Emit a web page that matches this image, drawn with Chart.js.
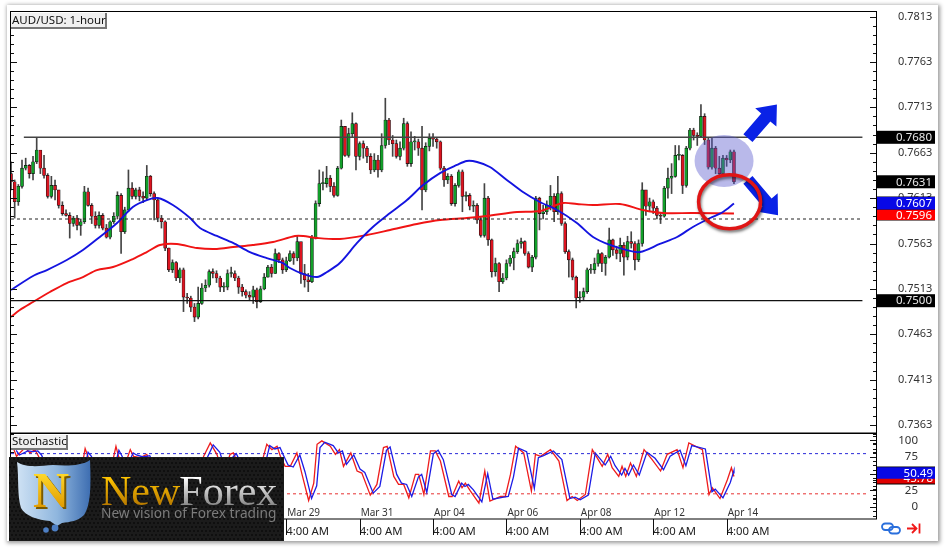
<!DOCTYPE html>
<html><head><meta charset="utf-8">
<script src="https://cdn.jsdelivr.net/npm/chart.js@4"></script>
<style>
html,body{margin:0;padding:0;background:#fff;width:945px;height:549px;overflow:hidden}
#sheet{position:absolute;left:7px;top:5px;width:931px;height:536px;background:#fff;box-shadow:1px 1px 4px 1px #999}
canvas{position:absolute;left:0;top:0}
</style></head><body>
<div id="sheet"></div>
<canvas id="c" width="945" height="549"></canvas>
<script>
// prices are in units of 0.0001
const closes=[7631,7609,7626,7646,7649,7640,7653,7666,7646,7638,
7615,7627,7622,7605,7596,7594,7585,7591,7583,7587,
7620,7605,7593,7583,7594,7580,7570,7587,7593,7616,
7576,7600,7624,7615,7622,7615,7613,7637,7618,7611,
7591,7587,7558,7534,7542,7525,7534,7504,7503,7493,
7482,7497,7514,7517,7532,7530,7525,7515,7515,7530,
7530,7525,7515,7510,7506,7504,7512,7499,7513,7526,
7537,7530,7552,7545,7534,7544,7552,7547,7565,
7530,7523,7521,7569,7607,7629,7629,7635,7626,7616,7646,
7692,7660,7684,7695,7659,7673,7668,7659,7644,7655,
7644,7671,7699,7677,7673,7659,7668,7695,7651,7675,
7675,7668,7622,7670,7679,7678,7675,7646,7633,7637,
7607,7627,7642,7615,7616,7604,7605,7589,7572,7613,
7567,7532,7541,7521,7525,7541,7547,7554,7563,7565,
7552,7537,7548,7613,7596,7598,7605,7615,7598,7618,
7585,7554,7545,7526,7503,7504,7510,7534,
7534,7541,7552,7541,7548,7567,7556,7552,7561,7548,7565,7563,
7545,7563,7622,7604,7609,7602,7594,7593,7624,7635,
7637,7660,7660,7627,7668,7688,7682,7681,7703,7677,
7647,7668,7646,7640,7657,7655,7664,7631];
const highs=[7653,7633,7628,7655,7657,7650,7659,7680,7662,7660,
7640,7637,7633,7618,7609,7600,7597,7593,7594,7590,
7626,7624,7607,7598,7598,7596,7584,7588,7597,7620,
7618,7603,7644,7630,7624,7625,7620,7649,7638,7620,
7612,7594,7588,7558,7545,7543,7536,7536,7508,7505,
7497,7515,7519,7523,7534,7535,7533,7527,7520,7534,
7537,7533,7527,7518,7512,7510,7516,7514,7516,7530,
7539,7540,7557,7553,7547,7548,7555,7554,7572,
7552,7540,7530,7572,7610,7644,7642,7648,7638,7630,7648,
7699,7692,7690,7707,7696,7675,7676,7670,7662,7662,
7660,7684,7723,7701,7682,7677,7675,7701,7697,7686,
7681,7678,7692,7674,7684,7684,7680,7676,7648,7640,
7639,7629,7644,7644,7620,7618,7610,7607,7592,7629,
7615,7568,7547,7542,7530,7545,7550,7558,7567,7569,
7566,7554,7550,7615,7614,7605,7610,7627,7618,7637,
7620,7587,7556,7547,7527,7510,7514,7536,
7540,7547,7556,7553,7550,7580,7568,7560,7569,7564,7571,7576,
7565,7567,7630,7613,7613,7611,7604,7597,7626,7646,
7651,7671,7671,7661,7670,7690,7690,7685,7716,7706,
7679,7679,7670,7659,7660,7660,7666,7666];
const lows=[7622,7591,7605,7624,7644,7635,7633,7651,7640,7635,
7613,7613,7611,7602,7594,7593,7569,7582,7578,7572,
7585,7604,7585,7580,7580,7578,7569,7568,7585,7590,
7552,7574,7598,7612,7612,7610,7608,7611,7615,7589,
7587,7580,7555,7532,7531,7522,7520,7488,7497,7488,
7477,7480,7496,7510,7515,7525,7520,7510,7510,7512,
7526,7522,7508,7505,7503,7500,7497,7492,7498,7512,
7526,7526,7530,7542,7530,7532,7543,7540,7544,
7519,7515,7510,7520,7568,7604,7622,7625,7620,7614,7615,
7645,7659,7658,7680,7644,7655,7657,7652,7640,7642,
7636,7642,7668,7672,7659,7657,7655,7666,7648,7648,
7666,7660,7600,7620,7665,7670,7668,7644,7626,7629,
7605,7604,7625,7598,7610,7600,7598,7585,7570,7570,
7561,7526,7527,7510,7519,7523,7538,7534,7552,7558,
7550,7536,7532,7546,7578,7590,7595,7600,7587,7595,
7583,7552,7526,7523,7492,7498,7500,7508,
7530,7530,7538,7532,7528,7547,7550,7546,7543,7528,7545,7558,
7534,7543,7560,7594,7598,7596,7590,7585,7592,7613,
7618,7636,7655,7618,7625,7666,7677,7671,7680,7672,
7645,7645,7640,7638,7640,7648,7652,7629];
const firstOpen=7640;

const blueMaIndex=[0,6,9.8,15.2,19.6,24.2,28.9,33.2,37,40,44.1,48.8,51.5,56.1,60.5,65.1,69.7,74.1,76,79.6,83.4,86.1,89.6,94.3,98.6,103.3,107.9,112.3,116.9,121.5,124.2,127,130.5,135.1,139.5,144.1,148.8,154.2,158.6,163.2,167.8,171.4,176.8,181.5,185.8,190.5,194,197];
const blueMaValues=[7511.8,7527.2,7533.8,7544.8,7555.8,7570.2,7585.6,7603.2,7610.9,7613.1,7605.4,7591.1,7580.1,7571.3,7563.6,7553.6,7547,7541.5,7536,7529.4,7526.1,7531.6,7541.5,7563.6,7581.2,7596.6,7610.9,7627.4,7640.6,7649.5,7653.9,7652.8,7647.3,7633,7619.7,7608.7,7599.9,7585.6,7570.2,7561.4,7555.8,7553.6,7562.5,7570.2,7581.2,7591.1,7597.7,7607];
const redMaIndex=[0,2.4,6,10.6,15.2,19.6,23.4,27.8,33.2,37,40.6,45.2,50.7,56.1,60.5,65.9,71.4,77.4,79.6,83.4,89.6,97,103.3,110.6,116.9,124.2,129.7,137.9,144.1,150.4,154.2,158.6,165.9,172.2,177.6,185.8,197];
const redMaValues=[7482.1,7489.8,7498.6,7509.6,7519.5,7526.1,7533.8,7537.1,7545.9,7553.6,7561.4,7562.5,7558,7557,7559.1,7561.4,7564.7,7571.3,7571.3,7569.1,7568,7572.4,7577.9,7584.5,7588.9,7591.1,7593.3,7597.7,7598.8,7607.6,7606.5,7605.4,7606.5,7599.9,7596.6,7596.6,7596];

const stochIndex=[0.6,1.5,3.8,5.2,6.5,7.5,9.7,13.4,16.5,18.8,20.2,21.1,23.4,26.1,28.6,29.3,30.8,32.5,33.4,35.2,37,39.7,44.3,48.8,51,52.5,54.3,56.1,57.9,59.7,60.6,63.4,66.1,67.9,68.8,69.7,71.1,72.5,73.4,74.7,76.1,77.9,79.3,81.1,82.5,83.4,84.7,87,88.4,89.5,90.6,92.6,94.3,95.6,97.9,99.7,101.5,102.5,104.3,105.6,107,108.4,110.2,111.1,112.5,114.3,115.6,117,119.3,120.2,122,122.9,123.8,125.2,127.5,129.1,130.5,133.4,134.7,136.1,137.5,139.7,141.8,142.9,144.3,147,149.3,151.5,152.9,154.3,156.5,158.4,161.1,162.6,163.8,165.6,166.5,167.5,168.8,170.4,172.5,174.7,177,178.8,181.5,183.1,184.7,188.4,190.2,191.1,193.2,195.2,196.3,197];
const stochRed=[88.6,76,88.6,81,86,76,49,29,59,44,87.6,74,44,29,91,76,59,86,76,74,79,44,24,9,49,76,96,79,49,79,81,44,24,54,76,94,86,91,76,61,61,81,49,10,36,94,99,91,79,86,61,81,54,51,18,34,89,91,46,34,34,14,49,49,19,84,84,69,16,16,39,29,36,24,6,54,9,16,16,49,91,81,24,79,76,86,69,10,16,10,19,86,61,79,59,46,61,46,66,46,86,71,54,79,86,59,96,86,19,29,13,41,59,45.8];
const stochBlue=[85,78,84,83,84,78,52,31,55,46,82,76,47,31,85,78,61,81,78,75,77,47,26,11,46,72,93,82,52,75,80,47,26,50,72,92,87,89,78,63,60,78,53,13,32,89,97,92,81,84,64,78,57,52,21,31,85,90,49,36,34,16,45,49,22,80,85,71,19,16,36,31,34,26,8,50,12,15,16,45,88,83,28,74,77,84,71,13,15,11,18,81,63,76,62,48,58,48,63,48,82,73,56,76,85,62,92,87,23,27,14,37,55,50.49];

const timeTickIndex=[75,95,115,135,155,175,195];
const timeTickLabel="4:00 AM";
const dateLabels=["Mar 29","Mar 31","Apr 04","Apr 06","Apr 08","Apr 12","Apr 14"];
const priceLabels=["0.7813","0.7763","0.7713","0.7663","0.7613","0.7563","0.7513","0.7463","0.7413","0.7363"];
const stochLabels=[100,75,50,25,0];
const levelResistance=7680, levelDashed=7590, levelSupport=7500;
const stochUpper=80, stochLower=20;
const lastBar=closes.length-1;
const P=v=>v/10000;

const opens=closes.map((c,i)=>i?closes[i-1]:firstOpen);
const pts=(xs,ys,f=v=>v)=>xs.map((x,i)=>({x,y:f(ys[i])}));
const wickData=closes.map((c,i)=>({x:i,y:[P(lows[i]),P(highs[i])]}));
const bodyData=closes.map((c,i)=>({x:i,y:[P(opens[i]),P(c)]}));
const bodyColors=closes.map((c,i)=>c>=opens[i]?'#12a02a':'#dc1420');
const hline=(v,a,b)=>[{x:a,y:P(v)},{x:b,y:P(v)}];

const FONT='"Noto Sans"';
function frame(s){ s.width=69; s.paddingTop=0; s.paddingBottom=0; }

const decor={id:'decor',
 afterDraw(ch){
  const c=ch.ctx,X=ch.scales.x,Y=ch.scales.y,S=ch.scales.yStoch;
  const L=X.left,R=X.right;
  const px=i=>X.getPixelForValue(i), py=v=>Y.getPixelForValue(P(v));
  c.save();
  // tick marks along both price edges and the oscillator edge
  c.strokeStyle='#111';c.lineWidth=1;c.beginPath();
  Y.ticks.forEach(t=>{const y=Math.round(Y.getPixelForValue(t.value))+.5;const m=t.label!=='';
    const l=m?6:3; c.moveTo(R-l,y);c.lineTo(R,y);c.moveTo(L,y);c.lineTo(L+l,y);});
  S.ticks.forEach(t=>{const y=Math.round(S.getPixelForValue(t.value))+.5;const m=t.value%25===0;
    const l=m?6:3; c.moveTo(R-l,y);c.lineTo(R,y);});
  timeTickIndex.forEach(i=>{const x=Math.round(px(i))+.5;c.moveTo(x,S.bottom);c.lineTo(x,S.bottom+16);});
  c.stroke();
  // panel frames
  c.strokeStyle='#000';c.lineWidth=1;
  c.strokeRect(L-.5,Y.top+.5,R-L+1,Y.bottom-Y.top);
  c.strokeRect(L-.5,S.top,R-L+1,S.bottom-S.top);
  // date labels
  c.fillStyle='#333';c.font='10px '+FONT;c.textAlign='left';c.textBaseline='middle';
  dateLabels.forEach((d,k)=>c.fillText(d,px(timeTickIndex[k])+1,513));
  // oscillator scale labels
  c.font='11.5px '+FONT;c.textAlign='right';
  stochLabels.forEach(v=>c.fillText(String(v),918,S.getPixelForValue(v)));
  // arrows
  const arrow=(i0,v0,i1,v1)=>{const x0=px(i0),y0=py(v0),x1=px(i1),y1=py(v1);
    const a=Math.atan2(y1-y0,x1-x0),n=Math.hypot(x1-x0,y1-y0);
    c.save();c.translate(x0,y0);c.rotate(a);c.fillStyle='#0a22e6';c.beginPath();
    c.moveTo(0,-6);c.lineTo(n-17,-6);c.lineTo(n-17,-14);c.lineTo(n,0);c.lineTo(n-17,14);c.lineTo(n-17,6);c.lineTo(0,6);
    c.closePath();c.fill();c.restore();};
  arrow(200.8,7679,208.7,7716);
  arrow(200.8,7633,209,7594);
  // translucent blue ellipse
  c.fillStyle='rgba(88,88,205,0.42)';c.beginPath();c.ellipse(px(194.3),py(7654),29.5,26,0,0,7);c.fill();
  // red ellipse
  c.save();c.shadowColor='rgba(0,0,0,.55)';c.shadowBlur=3;c.shadowOffsetX=1;c.shadowOffsetY=2;
  c.strokeStyle='#e01515';c.lineWidth=3.5;c.beginPath();c.ellipse(px(195.8),py(7609),31,27,0,0,7);c.stroke();c.restore();
  // value badges
  const badge=(y,h,bg,txt,fg,tx)=>{c.fillStyle=bg;c.fillRect(877,y-h/2,58,h);
     c.fillStyle=fg;c.font='11.5px '+FONT;c.textAlign='right';c.textBaseline='middle';c.fillText(txt,tx,y+.5);};
  badge(py(7680),13,'#000','0.7680','#e8e8e8',932);
  badge(py(7631),13,'#000','0.7631','#e8e8e8',932);
  badge(py(7500),13,'#000','0.7500','#e8e8e8',932);
  c.fillStyle='#000';c.fillRect(877,196.5,58,24);
  badge(214.8,10.5,'#ff0000','0.7596','#fff',932);
  badge(203.2,12.5,'#0808e6','0.7607','#fff',932);
  c.fillStyle='#000';c.fillRect(877,466.5,58,18);
  badge(478,11,'#e00000','45.78','#fff',933);
  badge(473,11.5,'#0808e6','50.49','#fff',933);
  // legend tags
  const tag=(x,y,w,h,t)=>{c.fillStyle='#f0f0f0';c.fillRect(x,y,w,h);
     c.fillStyle='#777';c.fillRect(x+w-1,y,2,h+1);c.fillRect(x,y+h-1,w+1,2);
     c.fillStyle='#111';c.font='11.5px '+FONT;c.textAlign='left';c.textBaseline='middle';c.fillText(t,x+1,y+h/2);};
  tag(11,13,95,15,'AUD/USD: 1-hour');
  tag(11,435,56,14,'Stochastic');
  // link and jump icons
  c.strokeStyle='#2a6fdc';c.lineWidth=1.8;
  const rr=(x,y,w,h)=>{c.beginPath();c.roundRect(x,y,w,h,3.5);c.stroke();};
  rr(882,523.5,11,6.5);rr(889,527,11,6.5);
  c.strokeStyle='#f01818';c.lineWidth=1.8;c.beginPath();
  c.moveTo(907,528.5);c.lineTo(916,528.5);c.moveTo(912,524);c.lineTo(916.5,528.5);c.lineTo(912,533);
  c.moveTo(919.5,523.5);c.lineTo(919.5,533.5);c.stroke();
  // banner
  c.fillStyle='#1b1b1b';c.fillRect(9,457,275,84);
  c.fillStyle='#0d0d0d';
  for(let y=459;y<541;y+=4)for(let x=10+((y-459)%8?2:0);x<284;x+=4){c.beginPath();c.arc(x,y,1,0,7);c.fill();}
  const g=c.createLinearGradient(17,0,90,0);g.addColorStop(0,'#cfe2f4');g.addColorStop(.55,'#8fb6de');g.addColorStop(1,'#3f6fb2');
  c.fillStyle=g;c.beginPath();c.moveTo(17,462);
  c.bezierCurveTo(26,468,40,466,53,465);c.bezierCurveTo(66,466,82,466,90,460);
  c.bezierCurveTo(91,485,91,505,84,515);c.bezierCurveTo(78,521,70,522,62,523);c.lineTo(57,526);c.lineTo(50,521);
  c.bezierCurveTo(38,520,25,516,21,508);c.bezierCurveTo(17,495,19,478,17,462);c.closePath();c.fill();
  c.fillStyle='#4d7fc4';c.beginPath();c.arc(46,530,2.8,0,7);c.arc(55,528,3.4,0,7);c.fill();
  c.textAlign='left';c.textBaseline='alphabetic';
  const gold=c.createLinearGradient(0,473,0,508);gold.addColorStop(0,'#ffd92a');gold.addColorStop(1,'#e09a00');
  c.font='bold 50px "Liberation Serif"';c.fillStyle='#7a5a00';c.fillText('N',35,509);
  c.fillStyle=gold;c.fillText('N',33,507);
  c.font='42px "Liberation Serif"';
  const gold2=c.createLinearGradient(0,478,0,505);gold2.addColorStop(0,'#ffc400');gold2.addColorStop(1,'#b87a00');
  c.fillStyle=gold2;c.fillText('New',101,505);
  const nw=c.measureText('New').width;
  const grey=c.createLinearGradient(0,478,0,505);grey.addColorStop(0,'#ffffff');grey.addColorStop(1,'#8a8a8a');
  c.fillStyle=grey;c.fillText('Forex',101+nw-1,505);
  c.fillStyle='#7c7c7c';c.font='13.7px '+FONT;c.fillText('New vision of Forex trading',101,518);
  c.restore();
 }};

new Chart(document.getElementById('c'),{
 type:'bar',
 data:{datasets:[
  {type:'bar',label:'wick',data:wickData,xAxisID:'x',yAxisID:'y',grouped:false,barThickness:1,backgroundColor:'#444',order:5},
  {type:'bar',label:'body',data:bodyData,xAxisID:'x',yAxisID:'y',grouped:false,barThickness:3,backgroundColor:bodyColors,borderColor:'#111',borderWidth:0.6,borderSkipped:false,minBarLength:1,order:4},
  {type:'line',label:'SMA 100',data:pts(blueMaIndex,blueMaValues,P),xAxisID:'x',yAxisID:'y',borderColor:'#1414e0',borderWidth:1.9,pointRadius:0,tension:0.3,order:2},
  {type:'line',label:'SMA 200',data:pts(redMaIndex,redMaValues,P),xAxisID:'x',yAxisID:'y',borderColor:'#f01414',borderWidth:1.9,pointRadius:0,tension:0.3,order:3},
  {type:'line',label:'resistance',data:hline(levelResistance,3.5,232),xAxisID:'x',yAxisID:'y',borderColor:'#444',borderWidth:1.4,pointRadius:0,order:1},
  {type:'line',label:'mid',data:hline(levelDashed,0,232),xAxisID:'x',yAxisID:'y',borderColor:'#222',borderWidth:1,borderDash:[3,3],pointRadius:0,order:1},
  {type:'line',label:'support',data:hline(levelSupport,0,232),xAxisID:'x',yAxisID:'y',borderColor:'#111',borderWidth:1.2,pointRadius:0,order:1},
  {type:'line',label:'stoch upper',data:[{x:0,y:stochUpper},{x:233,y:stochUpper}],xAxisID:'x',yAxisID:'yStoch',borderColor:'#2a2ad8',borderWidth:1,borderDash:[3,3],pointRadius:0,order:3},
  {type:'line',label:'stoch lower',data:[{x:0,y:stochLower},{x:233,y:stochLower}],xAxisID:'x',yAxisID:'yStoch',borderColor:'#e63030',borderWidth:1,borderDash:[3,3],pointRadius:0,order:3},
  {type:'line',label:'%D',data:pts(stochIndex,stochRed),xAxisID:'x',yAxisID:'yStoch',borderColor:'#ee1c1c',borderWidth:1.3,pointRadius:0,order:2},
  {type:'line',label:'%K',data:pts(stochIndex.map((i,k)=>Math.min(i+.8,lastBar)),stochBlue),xAxisID:'x',yAxisID:'yStoch',borderColor:'#1c1ce6',borderWidth:1.3,pointRadius:0,order:1}
 ]},
 options:{responsive:false,animation:false,devicePixelRatio:1,
  layout:{padding:{left:11,top:11,right:0,bottom:0}},
  plugins:{legend:{display:false},tooltip:{enabled:false}},
  scales:{
   x:{type:'linear',min:0,max:235.7,position:'bottom',offset:false,
      grid:{display:false},
      border:{display:false},
      afterBuildTicks(s){s.ticks=timeTickIndex.map(v=>({value:v}));},
      afterFit(s){s.height=30;s.paddingLeft=0;s.paddingRight=0;},
      ticks:{autoSkip:false,maxRotation:0,align:'start',padding:-2,color:'#222',font:{family:FONT,size:11.3},callback:()=>timeTickLabel}},
   y:{type:'linear',position:'right',stack:'right',stackWeight:422,min:0.73543,max:0.78191,
      grid:{display:false},border:{display:false},
      afterFit:frame,
      afterBuildTicks(s){const a=[];for(let k=-9;k<=45;k++)a.push({value:(7363+10*k)/10000});s.ticks=a;},
      ticks:{autoSkip:false,padding:14,color:'#333',font:{family:FONT,size:11},
         callback(v){const t=v.toFixed(4);return priceLabels.includes(t)?t:'';}}},
   yStoch:{type:'linear',position:'right',stack:'right',stackWeight:86,min:-17.6,max:110.8,
      grid:{display:false},border:{display:false},
      afterFit:frame,
      afterBuildTicks(s){const a=[];for(let k=-2;k<=17;k++)a.push({value:k*6.25});s.ticks=a;},
      ticks:{display:false}}
  }},
 plugins:[decor]
});
</script></body></html>
